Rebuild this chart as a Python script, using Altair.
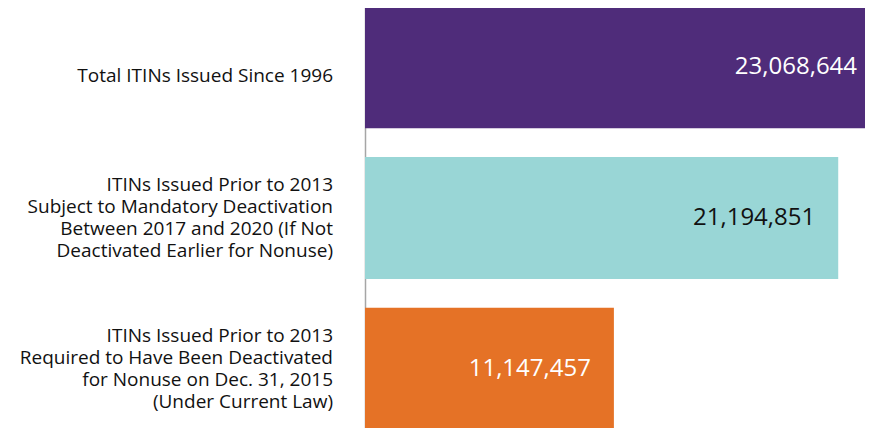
import altair as alt
import pandas as pd

categories = ["total", "mandatory", "nonuse"]
cat_labels = [
    "Total ITINs Issued Since 1996",
    "ITINs Issued Prior to 2013|Subject to Mandatory Deactivation|Between 2017 and 2020 (If Not|Deactivated Earlier for Nonuse)",
    "ITINs Issued Prior to 2013|Required to Have Been Deactivated|for Nonuse on Dec. 31, 2015|(Under Current Law)",
]
values = [23068644, 21194851, 11147457]
value_labels = ["23,068,644", "21,194,851", "11,147,457"]
bar_colors = ["#4f2c7a", "#99d6d6", "#e57226"]
text_colors = ["#ffffff", "#111111", "#ffffff"]

df = pd.DataFrame({
    "cat": categories,
    "cat_label": cat_labels,
    "value": values,
    "label": value_labels,
    "bar_color": bar_colors,
    "text_color": text_colors,
})

FONT = "Open Sans"

y_scale = alt.Scale(domain=categories, range=[-2, 422], paddingInner=0.19, paddingOuter=0)
x_scale = alt.Scale(domain=[0, 22394000], nice=False, zero=True)

y_enc = alt.Y(
    "cat:N",
    sort=categories,
    scale=y_scale,
    axis=alt.Axis(
        title=None,
        labels=False,
        ticks=False,
        domainColor="#a6a6a6",
        domainWidth=1.5,
        grid=False,
    ),
)

bars = alt.Chart(df).mark_bar(clip=True).encode(
    y=y_enc,
    x=alt.X("value:Q", scale=x_scale, axis=None),
    color=alt.Color("bar_color:N", scale=None, legend=None),
)

values_text = alt.Chart(df).mark_text(
    align="right", baseline="middle", dx=-23, font=FONT, fontSize=24
).encode(
    y=alt.Y("cat:N", sort=categories, scale=y_scale),
    x=alt.X("value:Q", scale=x_scale, axis=None),
    text="label:N",
    color=alt.Color("text_color:N", scale=None, legend=None),
)

single_label = alt.Chart(df).transform_filter(
    "indexof(datum.cat_label, '|') < 0"
).mark_text(
    align="right", baseline="middle", dy=9, font=FONT, fontSize=19, color="#111111"
).encode(
    y=alt.Y("cat:N", sort=categories, scale=y_scale),
    x=alt.value(-32),
    text="cat_label:N",
)

multi_label = alt.Chart(df).transform_filter(
    "indexof(datum.cat_label, '|') >= 0"
).mark_text(
    align="right", baseline="middle", lineBreak="|", lineHeight=22, dy=-33,
    font=FONT, fontSize=19, color="#111111"
).encode(
    y=alt.Y("cat:N", sort=categories, scale=y_scale),
    x=alt.value(-32),
    text="cat_label:N",
)

chart = (
    alt.layer(bars, values_text, single_label, multi_label)
    .properties(
        width=500,
        height=420,
        padding={"left": 357, "top": 0, "right": 0, "bottom": 0},
        autosize=alt.AutoSizeParams(type="none"),
    )
    .configure_view(stroke=None)
)

chart.save("out.html", embed_options={"renderer": "svg", "actions": False})
